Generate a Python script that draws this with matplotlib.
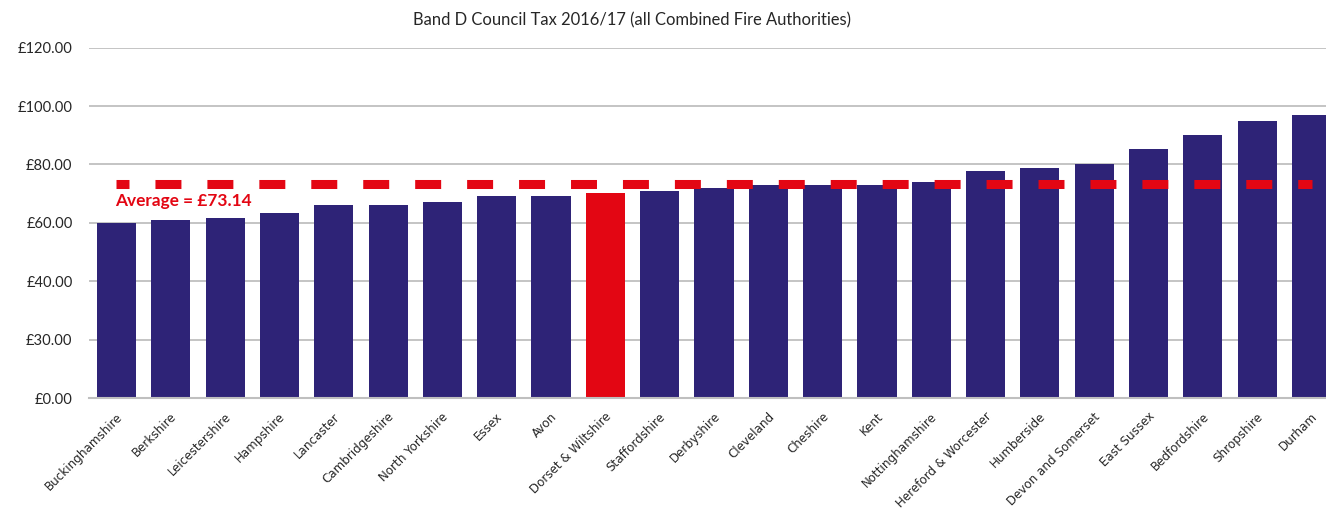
"""Band D council tax 2016/17 across combined fire authorities."""

import matplotlib

matplotlib.use("Agg")

import matplotlib.pyplot as plt
import matplotlib.transforms as mtransforms

authorities = [
    "Buckinghamshire", "Berkshire", "Leicestershire", "Hampshire", "Lancaster",
    "Cambridgeshire", "North Yorkshire", "Essex", "Avon", "Dorset & Wiltshire",
    "Staffordshire", "Derbyshire", "Cleveland", "Cheshire", "Kent",
    "Nottinghamshire", "Hereford & Worcester", "Humberside", "Devon and Somerset",
    "East Sussex", "Bedfordshire", "Shropshire", "Durham",
]
band_d = [
    60.0, 61.0, 61.6, 63.4, 66.1, 66.1, 67.1, 69.3, 69.2, 70.2,
    70.9, 71.9, 73.0, 73.0, 73.0, 74.0, 77.7, 78.8, 80.1, 85.3,
    90.1, 94.9, 96.9,
]
highlight = "Dorset & Wiltshire"
average = 73.14
y_ticks = [0, 20, 40, 60, 80, 100, 120]
y_tick_labels = ["£0.00", "£30.00", "£40.00", "£60.00", "£80.00", "£100.00", "£120.00"]

NAVY = "#2E2377"
RED = "#E30613"
GRID = "#BFBFBF"
TEXT = "#262626"

plt.rcParams["lines.scale_dashes"] = False

W, H = 1326, 509
fig = plt.figure(figsize=(W / 100, H / 100), dpi=100)
left, right, bottom, top = 89.3, 1338.7, 398.0, 47.6
ax = fig.add_axes([left / W, 1 - bottom / H, (right - left) / W, (bottom - top) / H])

positions = list(range(len(authorities)))
colors = [RED if name == highlight else NAVY for name in authorities]
ax.bar(positions, band_d, width=0.72, color=colors, zorder=2)

# dashed average line: half dash at each end, like the original
ax.plot(
    [positions[0], positions[-1]], [average, average],
    color=RED, linewidth=6.5, linestyle=(9.35, (18.7, 18.7)),
    dash_capstyle="butt", zorder=3,
)
ax.text(-0.02, average - 5.8, f"Average = £{average:.2f}", color=RED,
        fontsize=12.4, fontweight="bold", family="Lato", va="center", ha="left")

ax.set_xlim(-0.5, len(authorities) - 0.5)
ax.set_ylim(0, 120)
ax.set_yticks(y_ticks)
ax.set_yticklabels(y_tick_labels, family="Lato", fontsize=10.6, color=TEXT)
ax.yaxis.grid(True, color=GRID, linewidth=1.3, zorder=0)
ax.tick_params(axis="y", length=0, pad=12)
ax.tick_params(axis="x", length=0, pad=12)

ax.set_xticks(positions)
ax.set_xticklabels(authorities, rotation=45, ha="right", va="center",
                   rotation_mode="anchor", family="DejaVu Sans", fontsize=8.6,
                   color=TEXT)
offset = mtransforms.ScaledTranslation(4 / 100, 0, fig.dpi_scale_trans)
for label in ax.get_xticklabels():
    label.set_transform(label.get_transform() + offset)

for side in ("top", "right", "left"):
    ax.spines[side].set_visible(False)
ax.spines["bottom"].set_color(GRID)
ax.spines["bottom"].set_linewidth(1.5)

fig.text(632 / W, 1 - 20 / H, "Band D Council Tax 2016/17 (all Combined Fire Authorities)",
         family="Lato", fontsize=11.9, ha="center", va="center", color=TEXT)

fig.savefig("out.png", dpi=100)
